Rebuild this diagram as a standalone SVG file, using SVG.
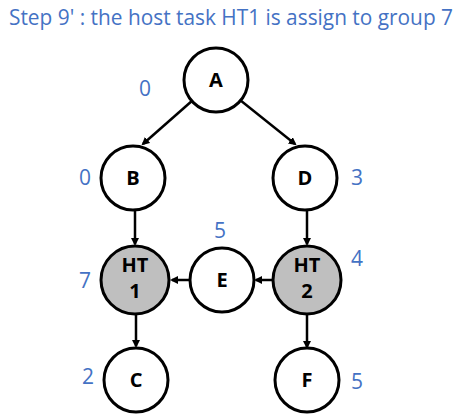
<svg xmlns="http://www.w3.org/2000/svg" width="466" height="417" viewBox="0 0 466 417">
<defs>
<marker id="ah" markerWidth="8" markerHeight="8" refX="6" refY="4" orient="auto" markerUnits="userSpaceOnUse"><path d="M0,0 L8,4 L0,8 Z" fill="#000"/></marker>
<style>
.n{fill:#fff;stroke:#000;stroke-width:3}
.g{fill:#BFBFBF;stroke:#000;stroke-width:3}
.t{font-family:"Open Sans","Liberation Sans",sans-serif;font-weight:bold;font-size:20px;text-anchor:middle;fill:#000}
.w{font-family:"Open Sans","Liberation Sans",sans-serif;font-size:21px;text-anchor:middle;fill:#4472C4}
.e{stroke:#000;stroke-width:2.5;fill:none;marker-end:url(#ah)}
</style>
</defs>
<rect width="466" height="417" fill="#fff"/>
<text x="231" y="25" font-family="'Open Sans','Liberation Sans',sans-serif" font-size="21.5" fill="#4472C4" text-anchor="middle" textLength="444" lengthAdjust="spacingAndGlyphs">Step 9' : the host task HT1 is assign to group 7</text>
<g id="edges">
<line class="e" x1="193" y1="100" x2="143" y2="144"/>
<line class="e" x1="240" y1="100" x2="295" y2="144"/>
<line class="e" x1="135" y1="211" x2="135" y2="244"/>
<line class="e" x1="307" y1="211" x2="307" y2="244"/>
<line class="e" x1="190" y1="280" x2="172" y2="280"/>
<line class="e" x1="273" y1="280" x2="256" y2="280"/>
<line class="e" x1="136" y1="315" x2="136" y2="346"/>
<line class="e" x1="307" y1="315" x2="307" y2="347"/>
</g>
<g id="A"><circle class="n" cx="216" cy="80" r="32"/><text class="t" x="216" y="87">A</text></g>
<g id="B"><circle class="n" cx="133" cy="178" r="32"/><text class="t" x="133" y="185">B</text></g>
<g id="D"><circle class="n" cx="305" cy="178" r="32"/><text class="t" x="305" y="185">D</text></g>
<g id="HT1"><circle class="g" cx="135" cy="280" r="34"/><text class="t" x="135" y="272">HT</text><text class="t" x="135" y="298">1</text></g>
<g id="E"><circle class="n" cx="222" cy="280" r="32"/><text class="t" x="222" y="287">E</text></g>
<g id="HT2"><circle class="g" cx="307" cy="280" r="34"/><text class="t" x="307" y="272">HT</text><text class="t" x="307" y="298">2</text></g>
<g id="C"><circle class="n" cx="136" cy="380" r="32"/><text class="t" x="136" y="387">C</text></g>
<g id="F"><circle class="n" cx="307" cy="380" r="32"/><text class="t" x="307" y="387">F</text></g>
<g id="weights">
<text class="w" x="145" y="96">0</text>
<text class="w" x="85" y="185">0</text>
<text class="w" x="357" y="185">3</text>
<text class="w" x="220" y="238">5</text>
<text class="w" x="85" y="288">7</text>
<text class="w" x="357" y="266">4</text>
<text class="w" x="88" y="384">2</text>
<text class="w" x="357" y="389">5</text>
</g>
</svg>
